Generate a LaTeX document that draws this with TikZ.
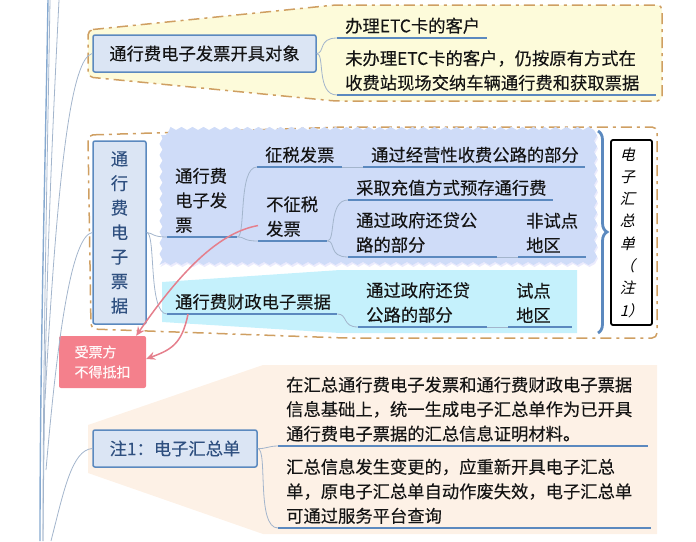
\documentclass[tikz,border=0pt]{standalone}
\usepackage{fontspec}
\setmainfont[FakeBold=0.2]{Noto Sans CJK SC}
\newfontfamily\slantfont[FakeSlant=0.25]{Noto Sans CJK SC}
\usetikzlibrary{arrows.meta,decorations.pathmorphing,decorations.pathreplacing}
\definecolor{inktext}{HTML}{141414}
\definecolor{inkblue}{HTML}{2F5080}
\definecolor{linkgrey}{HTML}{A3B5CC}
\definecolor{rootblue}{HTML}{86A9D0}
\definecolor{boxfill}{HTML}{DBE5F4}
\definecolor{boxline}{HTML}{5B89BF}
\definecolor{dashline}{HTML}{CF9F62}
\definecolor{pinkfill}{HTML}{F4808C}
\definecolor{pinkline}{HTML}{E57F8C}
\tikzset{
  mainbox/.style={draw=boxline,fill=boxfill,line width=1.5pt,rounded corners=2pt,inner sep=0pt,text=inkblue,align=center},
  topic/.style={anchor=south west,inner xsep=8pt,inner ysep=4pt,text width=#1pt-16pt,align=left,text=inktext,
    append after command={(\tikzlastnode.south west) edge[uline] (\tikzlastnode.south east)}},
  uline/.style={draw=boxline,line width=2.2pt},
  link/.style={draw=linkgrey,line width=0.8pt},
  rootline/.style={draw=linkgrey,line width=0.8pt},
  group/.style={draw=dashline,line width=1.5pt,dash pattern=on 11pt off 5pt on 3pt off 5pt,rounded corners=5pt},
  pinkarrow/.style={draw=pinkline,line width=1.5pt,-{Stealth[length=9pt,width=8pt,inset=3pt]}}
}
\begin{document}
\begin{tikzpicture}[x=1pt,y=-1pt,font=\fontsize{17.3}{24.5}\selectfont]
    \useasboundingbox (0,0) rectangle (696,541);
    % regions
    \draw[group,fill={rgb,255:red,253;green,251;blue,218}] (88,30)--(335,5)--(662,5)--(662,101)--(335,101)--(88,77)--cycle;
    \draw[group] (88,135)--(345,127)--(657,127)--(657,338)--(345,338)--(91,329)--cycle;
    \fill[black!10!blue!8!white,decorate,decoration={snake,segment length=11pt,amplitude=1.5pt}] (162,137) rectangle (597,266);
    \fill[fill={rgb,255:red,207;green,220;blue,248},decorate,decoration={snake,segment length=11pt,amplitude=1.5pt}] (161,135) rectangle (596,264);
    \fill[fill={rgb,255:red,197;green,241;blue,252}] (162,282)--(340,270)--(577,270)--(577,333)--(340,333)--(162,322)--cycle;
    \fill[fill={rgb,255:red,253;green,241;blue,230}] (88,425)--(263,365)--(657,365)--(657,534)--(263,534)--(88,473)--cycle;
    % main boxes
    \node[mainbox,minimum width=223pt,minimum height=37pt,text=inktext] (obj) at (204.5,53.5) {通行费电子发票开具对象};
    \node[mainbox,minimum width=53pt,minimum height=183pt] (piao) at (119.5,232.5) {通\\行\\费\\电\\子\\票\\据};
    \node[mainbox,minimum width=164pt,minimum height=37pt] (zhu) at (175,448.5) {注1：电子汇总单};
    \node[draw=black,line width=1.8pt,rounded corners=2pt,minimum width=41pt,minimum height=185pt,inner sep=0pt,align=left,
      font=\slantfont\fontsize{15}{22.3}\selectfont] (sum) at (631.5,232.5) {电\\子\\汇\\总\\单\\（\\注\\1）};
    \node[fill=pinkfill,rounded corners=2pt,minimum width=87pt,minimum height=52pt,inner sep=0pt,align=left,text=white!90!pink,
      font=\fontsize{14}{20}\selectfont] (recv) at (102.5,362) {受票方\\不得抵扣};
    % topics
    \node[topic=150] (card) at (337,38) {办理ETC卡的客户};
    \node[topic=319] (nocard) at (337,95) {未办理ETC卡的客户，仍按原有方式在\\收费站现场交纳车辆通行费和获取票据};
    \node[topic=70] (fapiao) at (167,237) {通行费\\电子发\\票};
    \node[topic=85] (tax) at (257,167) {征税发票};
    \node[topic=69] (notax) at (258,241) {不征税\\发票};
    \node[topic=222] (toll) at (363,167) {通过经营性收费公路的部分};
    \node[topic=205] (prepay) at (348,200) {采取充值方式预存通行费};
    \node[topic=149] (loan) at (348,257) {通过政府还贷公\\路的部分};
    \node[topic=68] (nontest) at (518,257) {非试点\\地区};
    \node[topic=170] (cz) at (167,314) {通行费财政电子票据};
    \node[topic=129] (czloan) at (358,327) {通过政府还贷\\公路的部分};
    \node[topic=64] (test) at (508,327) {试点\\地区};
    \node[topic=370] (gen) at (278,446) {在汇总通行费电子发票和通行费财政电子票据\\信息基础上，统一生成电子汇总单作为已开具\\通行费电子票据的汇总信息证明材料。};
    \node[topic=373] (chg) at (278,528) {汇总信息发生变更的，应重新开具电子汇总\\单，原电子汇总单自动作废失效，电子汇总单\\可通过服务平台查询};
    % root lines
    \coordinate (topa) at (48,0);
    \coordinate (topb) at (50,0);
    \coordinate (topc) at (59,0);
    \coordinate (enda) at (40,541);
    \coordinate (endb) at (43,541);
    \coordinate (joina) at (45,400);
    \coordinate (joinb) at (46,470);
    \coordinate (joinc) at (51,541);
    \draw[draw=rootblue,line width=1.4pt] (topa) .. controls (45,180) and (40,360) .. (enda);
    \draw[rootline] (topb) .. controls (47,180) and (43,360) .. (endb);
    \draw[rootline] (topc) .. controls (50,180) and (45,300) .. (endb);
    \draw[rootline] (obj.west) .. controls (72,58) and (58,160) .. (joina);
    \draw[rootline] (piao.west) .. controls (72,236) and (58,330) .. (joinb);
    \draw[rootline] (zhu.west) .. controls (72,450) and (64,490) .. (joinc);
    % links
    \draw[link] (obj.east) .. controls (325,53) and (318,38) .. (card.south west);
    \draw[link] (obj.east) .. controls (325,53) and (316,95) .. (nocard.south west);
    \draw[link] (piao.east) .. controls (153,233) and (152,237) .. (fapiao.south west);
    \draw[link] (piao.east) .. controls (156,233) and (148,314) .. (cz.south west);
    \draw[link] (fapiao.south east) .. controls (246,237) and (238,167) .. (tax.south west);
    \draw[link] (fapiao.south east) .. controls (246,237) and (242,241) .. (notax.south west);
    \draw[link] (tax.south east) -- (toll.south west);
    \draw[link] (notax.south east) .. controls (336,241) and (328,200) .. (prepay.south west);
    \draw[link] (notax.south east) .. controls (336,241) and (328,257) .. (loan.south west);
    \draw[link] (loan.south east) -- (nontest.south west);
    \draw[link] (cz.south east) .. controls (348,314) and (342,327) .. (czloan.south west);
    \draw[link] (czloan.south east) -- (test.south west);
    \draw[link] (zhu.east) .. controls (266,449) and (268,446) .. (gen.south west);
    \draw[link] (zhu.east) .. controls (268,449) and (256,528) .. (chg.south west);
    % brace
    \coordinate (bracetop) at (598,131);
    \coordinate (bracebot) at (598,333);
    \draw[draw=boxline,line width=2.8pt,decorate,decoration={brace,amplitude=9pt}] (bracetop) -- (bracebot);
    % pink arrows
    \draw[pinkarrow] ([yshift=-9pt]notax.west) .. controls (222,232) and (185,265) .. ([xshift=-10pt]recv.north east);
    \draw[pinkarrow] ([xshift=21pt]cz.south west) .. controls (182,345) and (170,350) .. ([yshift=3pt]recv.east);
\end{tikzpicture}
\end{document}
